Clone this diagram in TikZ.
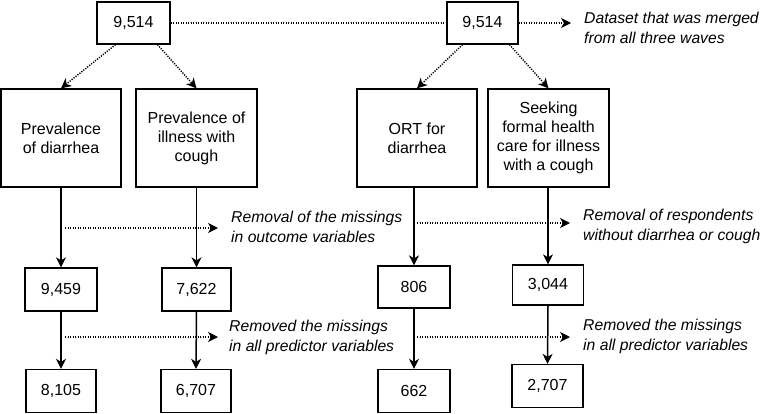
\documentclass[tikz,border=0pt]{standalone}
\usepackage{fontspec}
\setmainfont{Liberation Sans}
\usetikzlibrary{arrows.meta}
\begin{document}
\begin{tikzpicture}[x=1pt,y=-1pt,
  box/.style={draw,line width=1.3pt,inner sep=0pt,align=center,font=\fontsize{16}{19}\selectfont},
  solidarr/.style={line width=1.5pt,-{Stealth[length=10pt,width=10pt,inset=3pt]}},
  dotline/.style={line width=1.4pt,dash pattern=on 1.2pt off 1.3pt},
  dotarr/.style={dotline,-{Stealth[length=10pt,width=10pt,inset=3pt]}},
  note/.style={anchor=west,align=left,inner sep=0pt,font=\fontsize{15.7}{20}\selectfont\itshape}]
\useasboundingbox (0,0) rectangle (762,413);
% top
\node[box,minimum width=73pt,minimum height=42pt] (t1) at (133.5,23) {9,514};
\node[box,minimum width=71pt,minimum height=42pt] (t2) at (482.5,23) {9,514};
\coordinate (tend) at (571,23);
\node[note] (tnote) at (584,28) {Dataset that was merged\\from all three waves};
\draw[dotline] (t1.east) -- (t2.west);
\draw[dotarr] (t2.east) -- (tend);
% outcome boxes
\node[box,minimum width=120pt,minimum height=98pt] (b1) at (61,138) {Prevalence\\of diarrhea};
\node[box,minimum width=121pt,minimum height=98pt] (b2) at (196.5,138) {Prevalence of\\illness with\\cough};
\node[box,minimum width=120pt,minimum height=98pt] (b3) at (417,138) {ORT for\\diarrhea};
\node[box,minimum width=121pt,minimum height=98pt] (b4) at (548.5,138) {Seeking\\formal health\\care for illness\\with a cough};
\draw[dotarr] ([xshift=-18pt]t1.south) -- (b1.north);
\draw[dotarr] ([xshift=24pt]t1.south) -- (b2.north);
\draw[dotarr] ([xshift=-20pt]t2.south) -- (b3.north);
\draw[dotarr] ([xshift=27pt]t2.south) -- (b4.north);
% second row
\node[box,minimum width=72pt,minimum height=43pt] (c1) at (61,289.5) {9,459};
\node[box,minimum width=69pt,minimum height=43pt] (c2) at (196.5,289.5) {7,622};
\node[box,minimum width=72pt,minimum height=42pt] (c3) at (414,287) {806};
\node[box,minimum width=71pt,minimum height=40pt] (c4) at (548,285) {3,044};
\draw[solidarr] (b1.south) -- (c1.north);
\draw[solidarr] (b2.south) -- (c2.north);
\draw[solidarr] (b3.south -| c3.north) -- (c3.north);
\draw[solidarr] (b4.south -| c4.north) -- (c4.north);
% third row
\node[box,minimum width=70pt,minimum height=43pt] (d1) at (61,391) {8,105};
\node[box,minimum width=70pt,minimum height=43pt] (d2) at (196,391) {6,707};
\node[box,minimum width=72pt,minimum height=43pt] (d3) at (414,391) {662};
\node[box,minimum width=71pt,minimum height=43pt] (d4) at (547.5,386) {2,707};
\draw[solidarr] (c1.south) -- (d1.north);
\draw[solidarr] (c2.south) -- (d2.north);
\draw[solidarr] (c3.south) -- (d3.north);
\draw[solidarr] (c4.south) -- (d4.north);
% side notes
\coordinate (r1s) at (65,228);
\coordinate (r1e) at (218,228);
\node[note] (n1) at (231,227) {Removal of the missings\\in outcome variables};
\draw[dotarr] (r1s) -- (r1e);
\coordinate (r2s) at (417,223);
\coordinate (r2e) at (570,223);
\node[note] (n2) at (583,226) {Removal of respondents\\without diarrhea or cough};
\draw[dotarr] (r2s) -- (r2e);
\coordinate (r3s) at (65,337);
\coordinate (r3e) at (218,337);
\node[note] (n3) at (229,337) {Removed the missings\\in all predictor variables};
\draw[dotarr] (r3s) -- (r3e);
\coordinate (r4s) at (417,337);
\coordinate (r4e) at (570,337);
\node[note] (n4) at (583,336) {Removed the missings\\in all predictor variables};
\draw[dotarr] (r4s) -- (r4e);
\end{tikzpicture}
\end{document}
